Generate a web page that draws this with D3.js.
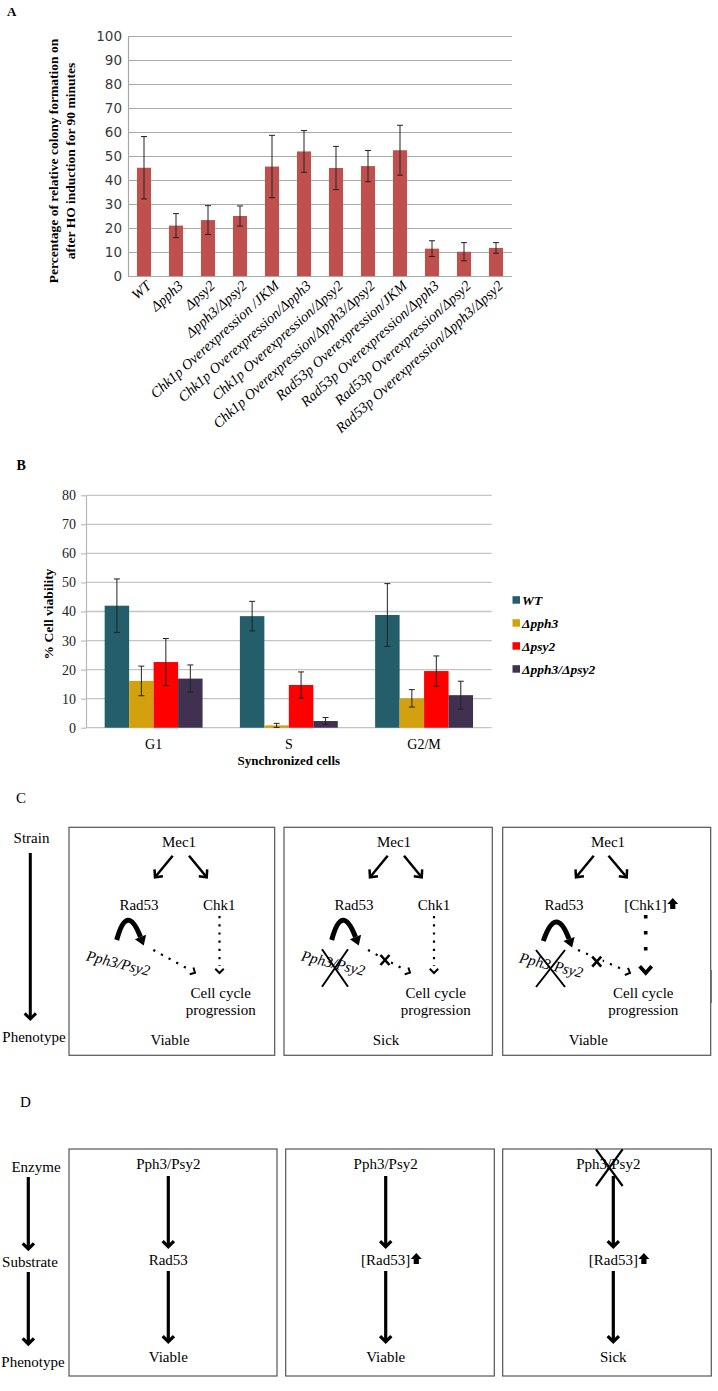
<!DOCTYPE html>
<html><head><meta charset="utf-8">
<script src="https://cdn.jsdelivr.net/npm/d3@7"></script>
<style>body{margin:0;background:#fff}svg{display:block}</style>
</head><body>
<script>
// ---------- Panel A data ----------
const catsA = ["WT","Δpph3","Δpsy2","Δpph3/Δpsy2","Chk1p Overexpression /JKM","Chk1p Overexpression/Δpph3","Chk1p Overexpression/Δpsy2","Chk1p Overexpression/Δpph3/Δpsy2","Rad53p Overexpression/JKM","Rad53p Overexpression/Δpph3","Rad53p Overexpression/Δpsy2","Rad53p Overexpression/Δpph3/Δpsy2"];
const valuesA = [45.1,21.0,23.3,25.0,45.6,51.9,45.0,45.8,52.4,11.4,10.1,11.7];
const errorsA = [13.0,5.0,6.0,4.2,13.0,8.7,9.0,6.5,10.4,3.3,3.8,2.2];
const ticksA = [0,10,20,30,40,50,60,70,80,90,100];
const titleA = ["Percentage of relative colony formation on","after HO induction for 90 minutes"];

// ---------- Panel B data ----------
const groupsB = ["G1","S","G2/M"];
const seriesB = ["WT","Δpph3","Δpsy2","Δpph3/Δpsy2"];
const wtB = [42.0,38.4,38.8];
const pph3B = [16.1,0.8,10.1];
const psy2B = [22.6,14.7,19.5];
const dblB = [16.9,2.3,11.2];
const wtErrB = [9.2,5.1,10.8];
const pph3ErrB = [5.1,0.7,3.0];
const psy2ErrB = [8.1,4.5,5.2];
const dblErrB = [4.7,1.2,4.8];
const ticksB = [0,10,20,30,40,50,60,70,80];
const colorsB = ["#245e6b","#d4a10e","#ff0000","#403150"];

// ---------- Panel C/D text ----------
const leftC = ["Strain","Phenotype"];
const phenC = ["Viable","Sick","Viable"];
const leftD = ["Enzyme","Substrate","Phenotype"];
const phenD = ["Viable","Viable","Sick"];

const SERIF = "'Liberation Serif','Times New Roman',serif";
const svg = d3.select("body").append("svg").attr("width",718).attr("height",1391);
svg.append("rect").attr("width",718).attr("height",1391).attr("fill","#fff");

// ================= Panel A =================
const gA = svg.append("g");
gA.append("text").attr("x",7).attr("y",16).text("A").attr("font-family",SERIF).attr("font-weight","bold").attr("font-size",13);
const xA = d3.scaleBand().domain(catsA).range([128,512]).paddingInner(0.56).paddingOuter(0.28);
const yA = d3.scaleLinear().domain([0,100]).range([276,36]);
const axA = gA.append("g").attr("transform","translate(128,0)")
  .call(d3.axisLeft(yA).tickValues(ticksA).tickSize(-384).tickSizeOuter(0).tickPadding(6));
axA.selectAll(".tick line").attr("stroke","#a8a8a8").attr("stroke-width",1.2);
axA.select(".domain").attr("stroke","#a8a8a8").attr("stroke-width",1.2);
axA.selectAll(".tick text").attr("font-family","'DejaVu Sans',sans-serif").attr("font-size",13.5).attr("fill","#3a3a3a");
gA.selectAll(".barA").data(catsA).enter().append("rect")
  .attr("x",d=>xA(d)).attr("width",xA.bandwidth())
  .attr("y",(d,i)=>yA(valuesA[i])).attr("height",(d,i)=>yA(0)-yA(valuesA[i]))
  .attr("fill","#c0504d");
catsA.forEach((c,i)=>{
  const cx = xA(c)+xA.bandwidth()/2;
  const hi=yA(valuesA[i]+errorsA[i]), lo=yA(valuesA[i]-errorsA[i]);
  gA.append("line").attr("x1",cx).attr("x2",cx).attr("y1",hi).attr("y2",lo).attr("stroke","#222").attr("stroke-width",1);
  [hi,lo].forEach(y=>gA.append("line").attr("x1",cx-3).attr("x2",cx+3).attr("y1",y).attr("y2",y).attr("stroke","#222").attr("stroke-width",1));
  gA.append("text").attr("transform",`translate(${cx+8},${287}) rotate(-42)`)
    .attr("text-anchor","end").attr("font-family",SERIF).attr("font-style","italic").attr("font-size",14.5).text(c);
});
titleA.forEach((t,i)=>{
  gA.append("text").attr("transform",`translate(${58+i*16.5},161) rotate(-90)`)
    .attr("text-anchor","middle").attr("font-family",SERIF).attr("font-weight","bold").attr("font-size",13.5).text(t);
});

// ================= Panel B =================
const gB = svg.append("g");
gB.append("text").attr("x",16.5).attr("y",470).text("B").attr("font-family",SERIF).attr("font-weight","bold").attr("font-size",14);
const yB = d3.scaleLinear().domain([0,80]).range([727.7,495.3]);
const x0 = d3.scaleBand().domain(groupsB).range([86,491.7]).paddingInner(0.276).paddingOuter(0.138);
const x1 = d3.scaleBand().domain(seriesB).range([0,x0.bandwidth()]);
ticksB.forEach(t=>gB.append("line").attr("x1",86).attr("x2",491.7).attr("y1",yB(t)).attr("y2",yB(t)).attr("stroke","#c4c4c4").attr("stroke-width",1.3));
const axB = gB.append("g").attr("transform","translate(86,0)")
  .call(d3.axisLeft(yB).tickValues(ticksB).tickSize(5).tickSizeOuter(0).tickPadding(5));
axB.selectAll(".tick line").attr("stroke","#b0b0b0");
axB.select(".domain").attr("stroke","#b8b8b8").attr("stroke-width",1.2);
axB.selectAll(".tick text").attr("font-family",SERIF).attr("font-size",14).attr("fill","#222");
const allB = [wtB,pph3B,psy2B,dblB], allErrB=[wtErrB,pph3ErrB,psy2ErrB,dblErrB];
seriesB.forEach((s,si)=>{
  groupsB.forEach((g,gi)=>{
    const v = allB[si][gi], e = allErrB[si][gi];
    const x = x0(g)+x1(s);
    gB.append("rect").attr("x",x).attr("width",x1.bandwidth()).attr("y",yB(v)).attr("height",yB(0)-yB(v)).attr("fill",colorsB[si]);
    const cx = x+x1.bandwidth()/2, hi=yB(v+e), lo=yB(Math.max(v-e,0.1));
    gB.append("line").attr("x1",cx).attr("x2",cx).attr("y1",hi).attr("y2",lo).attr("stroke","#222").attr("stroke-width",1);
    [hi,lo].forEach(y=>gB.append("line").attr("x1",cx-3).attr("x2",cx+3).attr("y1",y).attr("y2",y).attr("stroke","#222").attr("stroke-width",1));
  });
});
groupsB.forEach(g=>gB.append("text").attr("x",x0(g)+x0.bandwidth()/2).attr("y",749).attr("text-anchor","middle")
  .attr("font-family",SERIF).attr("font-size",14).text(g));
gB.append("text").attr("x",288.8).attr("y",765).attr("text-anchor","middle").attr("font-family",SERIF).attr("font-weight","bold").attr("font-size",13).text("Synchronized cells");
gB.append("text").attr("transform","translate(53,614) rotate(-90)").attr("text-anchor","middle").attr("font-family",SERIF).attr("font-weight","bold").attr("font-size",13.5).text("% Cell viability");
seriesB.forEach((s,i)=>{
  const y = 600+i*23;
  gB.append("rect").attr("x",512.5).attr("y",y-3.8).attr("width",7.5).attr("height",7.5).attr("fill",colorsB[i]);
  gB.append("text").attr("x",522).attr("y",y+4.5).attr("font-family",SERIF).attr("font-weight","bold").attr("font-style","italic").attr("font-size",13.5).text(s);
});

// ================= helpers for diagrams =================
function chevron(g,x2,y2,dx,dy,len,ang,w){
  const n=Math.hypot(dx,dy), ux=dx/n, uy=dy/n;
  const pts=[ang,-ang].map(a=>{const c=Math.cos(a),s=Math.sin(a);
    const rx=ux*c-uy*s, ry=ux*s+uy*c; return [x2-rx*len,y2-ry*len];});
  g.append("path").attr("d",`M${pts[0][0]},${pts[0][1]}L${x2},${y2}L${pts[1][0]},${pts[1][1]}`)
   .attr("fill","none").attr("stroke","#000").attr("stroke-width",w).attr("stroke-linejoin","miter").attr("stroke-linecap","butt");
}
function arrow(g,x1,y1,x2,y2,w,len,ang,dash){
  const l=g.append("line").attr("x1",x1).attr("y1",y1).attr("x2",x2).attr("y2",y2).attr("stroke","#000").attr("stroke-width",w);
  if(dash) l.attr("stroke-dasharray",dash);
  chevron(g,x2,y2,x2-x1,y2-y1,len,ang,w>2.6?w:Math.max(w,2));
}
function txt(g,x,y,t,opt={}){
  const e=g.append("text").attr("x",x).attr("y",y).attr("text-anchor",opt.anchor||"middle")
    .attr("font-family",SERIF).attr("font-size",opt.size||15).text(t);
  if(opt.italic) e.attr("font-style","italic");
  return e;
}
function cross(g,cx,cy,hx,hy,w){
  g.append("path").attr("d",`M${cx-hx},${cy-hy}L${cx+hx},${cy+hy}M${cx+hx},${cy-hy}L${cx-hx},${cy+hy}`).attr("stroke","#000").attr("stroke-width",w).attr("fill","none");
}
function upIcon(g,x,yb){
  const cx=x+5, top=yb-12;
  g.append("path").attr("d",`M${cx},${top}L${cx+5.5},${top+6}L${cx+2.6},${top+6}L${cx+2.6},${top+11}L${cx-2.6},${top+11}L${cx-2.6},${top+6}L${cx-5.5},${top+6}Z`).attr("fill","#000");
}
function curved(g,x0,y0,cx,cy,x1,y1){
  g.append("path").attr("d",`M${x0},${y0}Q${cx},${cy} ${x1},${y1}`).attr("fill","none").attr("stroke","#000").attr("stroke-width",5);
  const dx=x1-cx, dy=y1-cy, n=Math.hypot(dx,dy), ux=dx/n, uy=dy/n, px=-uy, py=ux;
  g.append("path").attr("d",`M${x1+ux*9},${y1+uy*9}L${x1+px*6},${y1+py*6}L${x1-px*6},${y1-py*6}Z`).attr("fill","#000");
}
function bracketed(g,cx,y,t){
  const e=txt(g,cx,y,t);
  const w=e.node().getComputedTextLength();
  upIcon(g,cx+w/2+1,y);
}

// ================= Panel C =================
const gC = svg.append("g");
txt(gC,16,802.7,"C",{anchor:"start"});
txt(gC,31.5,842.7,leftC[0]);
txt(gC,34,1042.3,leftC[1]);
arrow(gC,30.3,853,30.3,1019,3,8,Math.PI/4);
const boxC=[[69,274.7],[284,492.3],[502.7,710.7]];
boxC.forEach(b=>gC.append("rect").attr("x",b[0]).attr("y",827.3).attr("width",b[1]-b[0]).attr("height",228).attr("fill","none").attr("stroke","#555").attr("stroke-width",1.2));
gC.append("line").attr("x1",711.5).attr("x2",711.5).attr("y1",970).attr("y2",1003).attr("stroke","#777").attr("stroke-width",1);
const offC=[0,215,424];
offC.forEach((o,i)=>{
  const mo = i===2?429:o;
  txt(gC,179+mo,847.3,"Mec1");
  arrow(gC,172.7+(i===2?421:o),855.7,155+(i===2?421:o),877.3,2.5,8,Math.PI/4.2);
  arrow(gC,189+(i===2?419.5:o),855.7,206.7+(i===2?420:o),877.3,2.5,8,Math.PI/4.2);
  txt(gC,139+(i===2?425:o),910,"Rad53");
  txt(gC,220.7+(i===2?422.6:o),998,"Cell cycle");
  txt(gC,220.7+(i===2?422.6:o),1014.5,"progression");
  txt(gC,[170,386,588.3][i],1045,phenC[i]);
});
txt(gC,219.3,910,"Chk1"); txt(gC,434,910,"Chk1");
bracketed(gC,645.5,910,"[Chk1]");
[[219.5],[434]].forEach(d=>{
  gC.append("line").attr("x1",d[0]).attr("x2",d[0]).attr("y1",916).attr("y2",966).attr("stroke","#000").attr("stroke-width",2.2).attr("stroke-dasharray","2.2,6");
  chevron(gC,d[0],973,0,1,6,Math.PI/4,2);
});
gC.append("line").attr("x1",645.7).attr("x2",645.7).attr("y1",915).attr("y2",962).attr("stroke","#000").attr("stroke-width",3.6).attr("stroke-dasharray","3.6,12.4");
chevron(gC,645.7,973,0,1,9,Math.PI/4.3,3.8);
curved(gC,116.7,940,127,902,140.5,937);
curved(gC,331.7,940,342,902,355.5,937);
curved(gC,543.3,941,556,904,569,939);
[[117,968],[332,968],[550,970]].forEach(p=>{
  gC.append("text").attr("transform",`translate(${p[0]},${p[1]}) rotate(14)`).attr("text-anchor","middle")
    .attr("font-family",SERIF).attr("font-style","italic").attr("font-size",15).text("Pph3/Psy2");
});
cross(gC,335,968,13,18.7,2);
cross(gC,550.5,968.5,14.5,18.5,2);
function diag(x1,y1,x2,y2,xm){
  gC.append("line").attr("x1",x1).attr("y1",y1).attr("x2",x2-4).attr("y2",y2-2.2).attr("stroke","#000").attr("stroke-width",2.2).attr("stroke-dasharray","2.2,6.5");
  chevron(gC,x2,y2,x2-x1,y2-y1,5.5,Math.PI/4,2);
  if(xm){gC.append("rect").attr("x",xm[0]-6).attr("y",xm[1]-6).attr("width",12).attr("height",12).attr("fill","#fff");cross(gC,xm[0],xm[1],4.5,5,2.6);}
}
diag(153.3,950,195,972.7,null);
diag(368,950,410,972.7,[385,960]);
diag(578,950,630,973,[596.7,961.7]);

// ================= Panel D =================
const gD = svg.append("g");
txt(gD,20,1107,"D",{anchor:"start"});
txt(gD,36,1171.7,leftD[0]);
txt(gD,30,1266.7,leftD[1]);
txt(gD,33,1366.7,leftD[2]);
arrow(gD,28.3,1177,28.3,1249,3.2,8,Math.PI/4);
arrow(gD,28.3,1272,28.3,1344,3.2,8,Math.PI/4);
const boxD=[[69,277],[285.7,494.3],[502.7,711.3]];
boxD.forEach(b=>gD.append("rect").attr("x",b[0]).attr("y",1149).attr("width",b[1]-b[0]).attr("height",227).attr("fill","none").attr("stroke","#555").attr("stroke-width",1.2));
const colD=[168.3,385.7,613.3];
colD.forEach((cx,i)=>{
  txt(gD,i===2?608.3:cx,1169,"Pph3/Psy2");
  arrow(gD,cx,1176,cx,1246.7,3.2,8,Math.PI/4);
  if(i===0) txt(gD,cx,1265,"Rad53"); else bracketed(gD,cx,1265,"[Rad53]");
  arrow(gD,cx,1271,cx,1341.7,3.2,8,Math.PI/4);
  txt(gD,cx,1362,phenD[i]);
});
cross(gD,609.3,1167.7,13.3,18.3,2.2);
</script>
</body></html>
